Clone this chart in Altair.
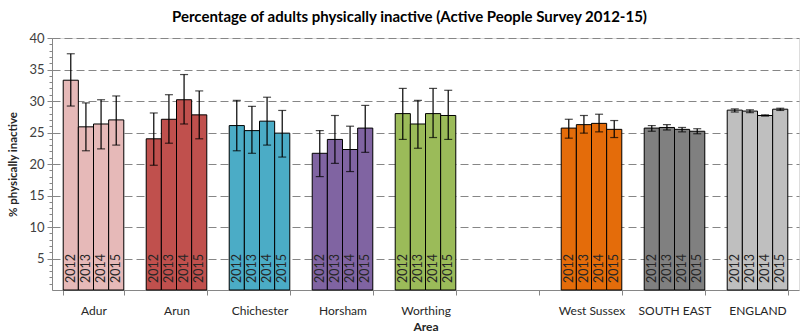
import altair as alt
import pandas as pd

areas = ["Adur", "Arun", "Chichester", "Horsham", "Worthing", "West Sussex", "SOUTH EAST", "ENGLAND"]
domain = ["Adur", "Arun", "Chichester", "Horsham", "Worthing", "_blank", "West Sussex", "SOUTH EAST", "ENGLAND"]
years = ["2012", "2013", "2014", "2015"]
colors = ["#e6b9b8", "#c0504d", "#4bacc6", "#8064a2", "#9bbb59", "#e46c0a", "#808080", "#bfbfbf"]

values = {
    "Adur": [33.3, 25.9, 26.35, 27.0],
    "Arun": [24.0, 27.1, 30.2, 27.8],
    "Chichester": [26.1, 25.3, 26.8, 24.9],
    "Horsham": [21.7, 23.9, 22.3, 25.7],
    "Worthing": [28.0, 26.35, 28.0, 27.7],
    "West Sussex": [25.7, 26.25, 26.45, 25.5],
    "SOUTH EAST": [25.7, 25.8, 25.5, 25.2],
    "ENGLAND": [28.55, 28.4, 27.7, 28.7],
}
lower = {
    "Adur": [29.2, 22.1, 22.4, 23.0],
    "Arun": [19.8, 23.3, 26.35, 24.0],
    "Chichester": [22.1, 21.7, 23.0, 21.1],
    "Horsham": [18.0, 20.1, 18.8, 21.85],
    "Worthing": [23.9, 22.5, 24.2, 23.9],
    "West Sussex": [24.1, 24.9, 25.1, 24.2],
    "SOUTH EAST": [25.2, 25.4, 25.1, 24.8],
    "ENGLAND": [28.25, 28.15, 27.6, 28.5],
}
upper = {
    "Adur": [37.5, 29.7, 30.2, 30.8],
    "Arun": [28.1, 31.0, 34.2, 31.6],
    "Chichester": [30.1, 29.15, 30.6, 28.5],
    "Horsham": [25.3, 27.7, 26.0, 29.3],
    "Worthing": [32.0, 30.1, 32.0, 31.7],
    "West Sussex": [27.1, 27.7, 27.9, 26.9],
    "SOUTH EAST": [26.1, 26.25, 25.8, 25.6],
    "ENGLAND": [28.75, 28.6, 27.8, 28.85],
}
major_ticks = [5, 10, 15, 20, 25, 30, 35, 40]
minor_ticks = list(range(1, 41))

rows = []
for a in areas:
    for i, y in enumerate(years):
        rows.append({"area": a, "year": y, "value": values[a][i],
                     "lo": lower[a][i], "hi": upper[a][i], "base": 1.1})
df = pd.DataFrame(rows)

font = "Lato"
axis_color = "#868686"


def yscale():
    return alt.Scale(domain=[0, 40], nice=False, zero=True)


x_enc = alt.X(
    "area:N",
    scale=alt.Scale(domain=domain, paddingInner=0.27, paddingOuter=0.135),
    axis=alt.Axis(
        title="Area", titleFont=font, titleFontSize=12, titleFontWeight="bold",
        titleColor="#262626", titlePadding=5,
        labelExpr="datum.value == '_blank' ? '' : datum.value",
        labelFont=font, labelFontSize=12, labelColor="#262626", labelAngle=0,
        labelPadding=10,
        tickBand="extent", tickSize=5, tickColor=axis_color, domainColor=axis_color,
        grid=False,
    ),
)
xo = alt.XOffset("year:N", scale=alt.Scale(paddingInner=0, paddingOuter=0))

y_axis = alt.Axis(
    title="% physically inactive", titleFont=font, titleFontSize=11.5, titleFontWeight="bold",
    titleColor="#262626", titlePadding=10,
    values=major_ticks,
    labelFont=font, labelFontSize=13, labelColor="#404040", labelPadding=3,
    tickColor=axis_color, domainColor=axis_color, tickSize=5,
    grid=True, gridColor=axis_color, gridDash=[8, 4], gridWidth=1,
)
minor_axis = alt.Axis(
    orient="left", values=minor_ticks, labels=False, title=None, domain=False,
    grid=False, tickSize=3, tickColor=axis_color,
)

base = alt.Chart(df)

bars = base.mark_bar(stroke="black", strokeWidth=1).encode(
    x=x_enc, xOffset=xo,
    y=alt.Y("value:Q", scale=yscale(), axis=y_axis),
    color=alt.Color("area:N", scale=alt.Scale(domain=areas, range=colors), legend=None),
)

errs = base.mark_rule(color="black", strokeWidth=1.2).encode(
    x=alt.X("area:N"), xOffset=xo,
    y=alt.Y("lo:Q", scale=yscale(), axis=None), y2="hi:Q",
)
cap_lo = base.mark_tick(color="black", size=8, thickness=1.2).encode(
    x=alt.X("area:N"), xOffset=xo, y=alt.Y("lo:Q", scale=yscale(), axis=None),
)
cap_hi = base.mark_tick(color="black", size=8, thickness=1.2).encode(
    x=alt.X("area:N"), xOffset=xo, y=alt.Y("hi:Q", scale=yscale(), axis=None),
)
labels = base.mark_text(angle=270, align="left", baseline="middle", font=font,
                        fontSize=12.5, color="#262626").encode(
    x=alt.X("area:N"), xOffset=xo, y=alt.Y("base:Q", scale=yscale(), axis=minor_axis),
    text="year:N",
)

chart = alt.layer(bars, errs, cap_lo, cap_hi, labels).resolve_scale(
    y="independent"
).properties(
    width=747, height=252,
    title=alt.TitleParams(
        "Percentage of adults physically inactive (Active People Survey 2012-15)",
        font=font, fontSize=15, fontWeight="bold", color="#000000", dx=-16, offset=7,
    ),
    autosize=alt.AutoSizeParams(type="none"),
    padding={"left": 52, "top": 38, "right": 13, "bottom": 42},
).configure_view(stroke=None).configure(background="white")

chart.save("out.html", embed_options={"renderer": "svg", "actions": False})
